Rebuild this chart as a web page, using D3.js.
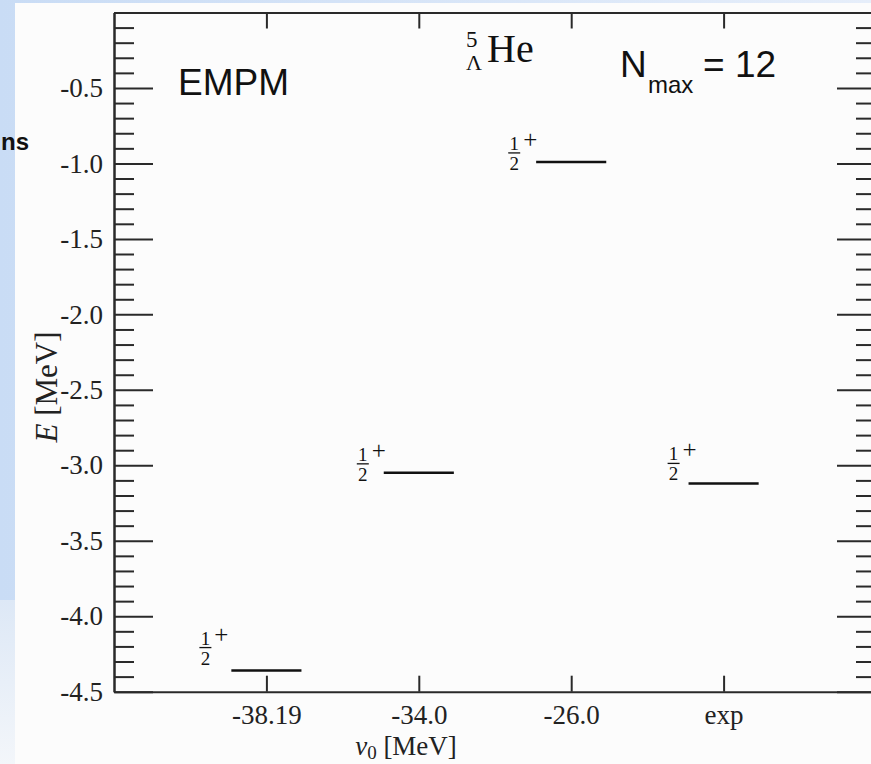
<!DOCTYPE html>
<html>
<head>
<meta charset="utf-8">
<script src="https://cdn.jsdelivr.net/npm/d3@7"></script>
<style>
  html, body { margin: 0; padding: 0; background: #ffffff; }
  svg { display: block; }
  .tick text { font-family: "Liberation Serif", serif; font-size: 27px; fill: #222; }
</style>
</head>
<body>
<svg id="chart" width="871" height="764"></svg>
<script>
// Λ-hypernucleus ground-state levels for several Λ-potential depths
const categories = ["-38.19", "-34.0", "-26.0", "exp"];
const levelEnergies = [-4.36, -3.05, -0.99, -3.12];
const levelSpins = ["1", "1", "1", "1"];   // numerator of J = 1/2
const levelParity = ["+", "+", "+", "+"];
const yMajorTicks = [-4.5, -4.0, -3.5, -3.0, -2.5, -2.0, -1.5, -1.0, -0.5];
const yTickLabels = ["-4.5", "-4.0", "-3.5", "-3.0", "-2.5", "-2.0", "-1.5", "-1.0", "-0.5"];

const svg = d3.select("#chart");
const W = 871, H = 764;

// slide backdrop behind the figure
const defs = svg.append("defs");
const bg = defs.append("linearGradient").attr("id", "slideBg")
  .attr("x1", 0).attr("y1", 0).attr("x2", 1).attr("y2", 0);
bg.append("stop").attr("offset", "0%").attr("stop-color", "#c9dcf5");
bg.append("stop").attr("offset", "100%").attr("stop-color", "#e6eefa");
const bgLow = defs.append("linearGradient").attr("id", "slideLow")
  .attr("x1", 0).attr("y1", 0).attr("x2", 0).attr("y2", 1);
bgLow.append("stop").attr("offset", "0%").attr("stop-color", "#dde8f6");
bgLow.append("stop").attr("offset", "100%").attr("stop-color", "#f3f6fa");

svg.append("rect").attr("width", W).attr("height", H).attr("fill", "url(#slideBg)");
svg.append("rect").attr("x", 0).attr("y", 600).attr("width", 16).attr("height", H - 600)
  .attr("fill", "url(#slideLow)");

// figure panel
svg.append("rect").attr("x", 15).attr("y", 3).attr("width", W - 15).attr("height", H - 3)
  .attr("fill", "#fcfcfc");

// slide heading fragment visible at the left edge
svg.append("text")
  .attr("x", 1).attr("y", 150)
  .style("font-family", "'Liberation Sans', Arial, sans-serif")
  .style("font-weight", "bold").style("font-size", "24px").attr("fill", "#111")
  .text("ns");

const plot = { left: 114, right: 876, top: 12.5, bottom: 691.7 };

const x = d3.scaleLinear().domain([0, categories.length + 1]).range([plot.left, plot.right]);
const y = d3.scaleLinear().domain([-4.5, 0]).range([plot.bottom, plot.top]);

const catPos = categories.map((c, i) => i + 1);
const minorTicks = d3.range(-4.4, 0.001, 0.1)
  .map(v => +v.toFixed(2))
  .filter(v => !yMajorTicks.some(m => Math.abs(m - v) < 1e-6));

const axisColor = "#2a2a2a";
function styleAxis(g) {
  g.select(".domain").attr("stroke", axisColor).attr("stroke-width", 2);
  g.selectAll(".tick line").attr("stroke", axisColor).attr("stroke-width", 2);
}

// left axis: labelled major ticks, short minor ticks, all pointing inward
svg.append("g").attr("transform", `translate(${plot.left},0)`)
  .call(d3.axisLeft(y).tickValues(yMajorTicks)
    .tickFormat((d, i) => yTickLabels[i])
    .tickSize(-39).tickSizeOuter(0).tickPadding(11))
  .call(styleAxis);
svg.append("g").attr("transform", `translate(${plot.left},0)`)
  .call(d3.axisLeft(y).tickValues(minorTicks).tickFormat("").tickSize(-20).tickSizeOuter(0))
  .call(styleAxis);

// right axis mirrors the left one without labels
svg.append("g").attr("transform", `translate(${plot.right},0)`)
  .call(d3.axisRight(y).tickValues(yMajorTicks).tickFormat("").tickSize(-39).tickSizeOuter(0))
  .call(styleAxis);
svg.append("g").attr("transform", `translate(${plot.right},0)`)
  .call(d3.axisRight(y).tickValues(minorTicks).tickFormat("").tickSize(-20).tickSizeOuter(0))
  .call(styleAxis);

// bottom and top axes at the category positions
svg.append("g").attr("transform", `translate(0,${plot.bottom})`)
  .call(d3.axisBottom(x).tickValues(catPos)
    .tickFormat((d, i) => categories[i])
    .tickSize(-16).tickSizeOuter(0).tickPadding(13))
  .call(styleAxis);
svg.append("g").attr("transform", `translate(0,${plot.top})`)
  .call(d3.axisTop(x).tickValues(catPos).tickFormat("").tickSize(-16).tickSizeOuter(0))
  .call(styleAxis);

// energy levels
const halfWidth = 0.23;
svg.append("g").selectAll("line.level")
  .data(levelEnergies)
  .join("line")
  .attr("class", "level")
  .attr("x1", (d, i) => x(catPos[i] - halfWidth))
  .attr("x2", (d, i) => x(catPos[i] + halfWidth))
  .attr("y1", d => y(d)).attr("y2", d => y(d))
  .attr("stroke", "#111").attr("stroke-width", 2.5);

// J^π labels, set up-left of each level
const labelShift = [[-61, -23], [-56, -9], [-57, -9], [-50, -20]];
const serif = "'Liberation Serif', serif";
levelEnergies.forEach((e, i) => {
  const cx = x(catPos[i]) + labelShift[i][0];
  const cy = y(e) + labelShift[i][1];
  const g = svg.append("g");
  g.append("text").attr("x", cx).attr("y", cy - 3).attr("text-anchor", "middle")
    .style("font-family", serif).style("font-size", "19px").attr("fill", "#111")
    .text(levelSpins[i]);
  g.append("line").attr("x1", cx - 6).attr("x2", cx + 6).attr("y1", cy).attr("y2", cy)
    .attr("stroke", "#111").attr("stroke-width", 1.3);
  g.append("text").attr("x", cx).attr("y", cy + 17).attr("text-anchor", "middle")
    .style("font-family", serif).style("font-size", "19px").attr("fill", "#111")
    .text("2");
  g.append("text").attr("x", cx + 16).attr("y", cy - 5).attr("text-anchor", "middle")
    .style("font-family", serif).style("font-size", "25px").attr("fill", "#111")
    .text(levelParity[i]);
});

// panel annotations
svg.append("text").attr("x", 178).attr("y", 95)
  .style("font-family", "'Liberation Sans', Arial, sans-serif").style("font-size", "37px")
  .attr("fill", "#111").text("EMPM");

const nuc = svg.append("g").attr("fill", "#111").style("font-family", serif);
nuc.append("text").attr("x", 466).attr("y", 47).style("font-size", "23px").text("5");
nuc.append("text").attr("x", 466).attr("y", 70).style("font-size", "22px").text("Λ");
nuc.append("text").attr("x", 487).attr("y", 62).style("font-size", "40px").text("He");

const nm = svg.append("g").attr("fill", "#111")
  .style("font-family", "'Liberation Sans', Arial, sans-serif");
nm.append("text").attr("x", 620).attr("y", 77).style("font-size", "37px").text("N");
nm.append("text").attr("x", 648).attr("y", 93).style("font-size", "24px").text("max");
nm.append("text").attr("x", 703).attr("y", 77).style("font-size", "37px").text("= 12");

// axis titles
const yTitle = svg.append("text")
  .attr("transform", "translate(57,387) rotate(-90)")
  .attr("text-anchor", "middle")
  .style("font-family", serif).style("font-size", "31px").attr("fill", "#222");
yTitle.append("tspan").style("font-style", "italic").text("E");
yTitle.append("tspan").text(" [MeV]");

const xTitle = svg.append("text")
  .attr("x", 406).attr("y", 755).attr("text-anchor", "middle")
  .style("font-family", serif).style("font-size", "27px").attr("fill", "#222");
xTitle.append("tspan").style("font-style", "italic").text("v");
xTitle.append("tspan").attr("dy", 4).style("font-size", "19px").text("0");
xTitle.append("tspan").attr("dy", -4).text(" [MeV]");
</script>
</body>
</html>
